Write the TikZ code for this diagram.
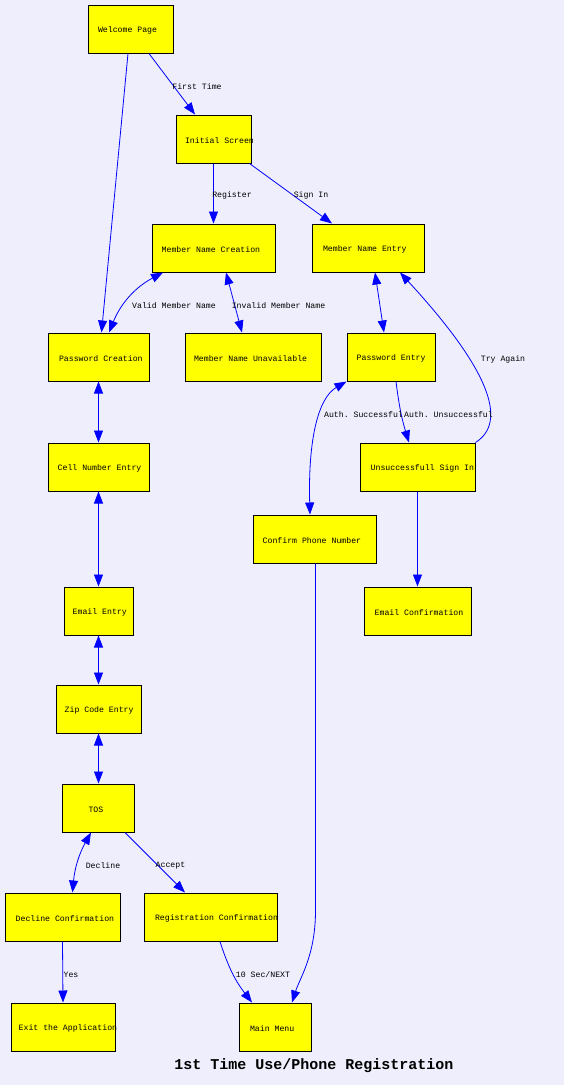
\documentclass[tikz,border=0pt]{standalone}
\usepackage{fontspec}
\setmonofont{Liberation Mono}
\usetikzlibrary{arrows.meta}
\definecolor{bgcol}{RGB}{238,238,252}
\definecolor{boxfill}{RGB}{255,255,0}
\definecolor{edgecol}{RGB}{0,0,255}
\newcommand{\boxtext}[3]{\makebox[#1pt][l]{\hspace{#2pt}\raisebox{-1.5pt}[\height][\depth]{#3}}}
\tikzset{
  box/.style={draw=black, fill=boxfill, line width=1pt, inner sep=0pt, minimum height=48pt,
    font=\fontsize{8.2}{9}\ttfamily},
  lbl/.style={inner sep=0pt, yshift=-1.5pt, font=\fontsize{8.2}{9}\ttfamily},
  arr/.style={draw=edgecol, line width=0.8pt, -{Triangle[length=12pt,width=9pt]}},
  barr/.style={draw=edgecol, line width=0.8pt, {Triangle[length=12pt,width=9pt]}-{Triangle[length=12pt,width=9pt]}},
}
\begin{document}
\begin{tikzpicture}[x=1pt,y=-1pt]
\useasboundingbox (0,0) rectangle (564,1085);
\fill[bgcol] (0,0) rectangle (564,1085);
% nodes
\node[box, minimum width=85pt] (welcome) at (130.5,29) {\boxtext{85}{10}{Welcome Page}};
\node[box, minimum width=75pt] (initial) at (213.5,139) {\boxtext{75}{9}{Initial Screen}};
\node[box, minimum width=123pt] (mnc) at (213.5,248) {\boxtext{123}{9.7}{Member Name Creation}};
\node[box, minimum width=112pt] (mne) at (368,248) {\boxtext{112}{11}{Member Name Entry}};
\node[box, minimum width=101pt] (pwdc) at (98.5,357) {\boxtext{101}{11}{Password Creation}};
\node[box, minimum width=136pt] (unav) at (253,357) {\boxtext{136}{9}{Member Name Unavailable}};
\node[box, minimum width=88pt] (pe) at (391,357) {\boxtext{88}{9.7}{Password Entry}};
\node[box, minimum width=101pt] (cell) at (98.5,467) {\boxtext{101}{9.7}{Cell Number Entry}};
\node[box, minimum width=115pt] (uns) at (417.5,467) {\boxtext{115}{10.7}{Unsuccessfull Sign In}};
\node[box, minimum width=123pt] (cpn) at (314.5,539) {\boxtext{123}{9.7}{Confirm Phone Number}};
\node[box, minimum width=69pt] (email) at (98.5,611) {\boxtext{69}{8.7}{Email Entry}};
\node[box, minimum width=107pt] (ec) at (417.5,611) {\boxtext{107}{10.7}{Email Confirmation}};
\node[box, minimum width=85pt] (zip) at (98.5,709) {\boxtext{85}{8.7}{Zip Code Entry}};
\node[box, minimum width=72pt] (tos) at (98.5,808) {\boxtext{72}{26}{TOS}};
\node[box, minimum width=115pt] (dec) at (62.5,917) {\boxtext{115}{10.7}{Decline Confirmation}};
\node[box, minimum width=133pt] (reg) at (210.5,917) {\boxtext{133}{11}{Registration Confirmation}};
\node[box, minimum width=104pt] (exit) at (63,1027) {\boxtext{104}{7.7}{Exit the Application}};
\node[box, minimum width=72pt] (mm) at (275,1027) {\boxtext{72}{11}{Main Menu}};
\node[inner sep=0pt, font=\fontsize{15}{17}\ttfamily\bfseries] (title) at (314,1066) {1st Time Use/Phone Registration};
% edges
\draw[arr] (welcome) -- (initial);
\draw[arr] ([xshift=-2.5pt]welcome.south) -- ([xshift=3pt]pwdc.north);
\draw[arr] (initial.south) -- (mnc.north);
\draw[arr] ([xshift=-2pt]initial.south east) -- ([xshift=-36pt]mne.north);
\draw[barr] ([xshift=-50.5pt]mnc.south) to[bend right=20] ([xshift=10.5pt]pwdc.north);
\draw[barr] ([xshift=12.5pt]mnc.south) -- ([xshift=-11pt]unav.north);
\draw[barr] ([xshift=7pt]mne.south) -- ([xshift=-7pt]pe.north);
\draw[arr] ([xshift=5pt]pe.south) to[bend right=5] ([xshift=-8.5pt]uns.north);
\draw[barr] (pe.south west) .. controls (318,398) and (308,440) .. ([xshift=-4.5pt]cpn.north);
\draw[arr] (uns.north east) .. controls (508,422) and (490,370) .. ([xshift=32pt]mne.south);
\draw[barr] (pwdc.south) -- (cell.north);
\draw[barr] (cell.south) -- (email.north);
\draw[barr] (email.south) -- (zip.north);
\draw[barr] (zip.south) -- (tos.north);
\draw[barr] ([xshift=-7.5pt]tos.south) to[bend right=12] ([xshift=10pt]dec.north);
\draw[arr] ([xshift=26.5pt]tos.south) -- ([xshift=-25.5pt]reg.north);
\draw[arr] (dec.south) -- (exit.north);
\draw[arr] ([xshift=9.5pt]reg.south) to[bend right=10] ([xshift=-23pt]mm.north);
\draw[arr] ([xshift=1pt]cpn.south) -- ++(0,347) coordinate (cmm) .. controls +(0,45) and +(8,-25) .. ([xshift=17pt]mm.north);
\draw[arr] (uns.south) -- (ec.north);
% labels
\node[lbl] (l1) at (197,85) {First Time};
\node[lbl] (l2) at (232,194) {Register};
\node[lbl] (l3) at (311,194) {Sign In};
\node[lbl] (l4) at (174,304) {Valid Member Name};
\node[lbl] (l5) at (278.5,304) {Invalid Member Name};
\node[lbl] (l6) at (363.5,413) {Auth. Successful};
\node[lbl] (l7) at (448.5,413) {Auth. Unsuccessful};
\node[lbl] (l8) at (503,358) {Try Again};
\node[lbl] (l9) at (103,864) {Decline};
\node[lbl] (l10) at (170.5,864) {Accept};
\node[lbl] (l11) at (71,973) {Yes};
\node[lbl] (l12) at (263,973) {10 Sec/NEXT};
\end{tikzpicture}
\end{document}
